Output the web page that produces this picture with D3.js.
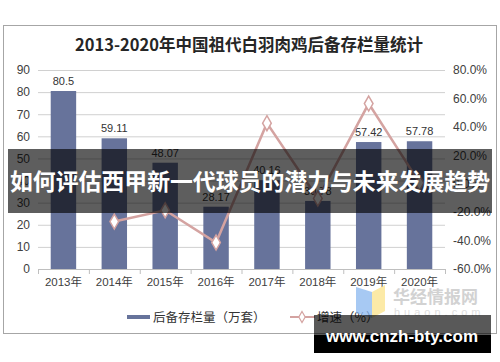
<!DOCTYPE html>
<html lang="zh">
<head>
<meta charset="utf-8">
<title>祖代白羽肉鸡后备存栏量</title>
<script src="https://d3js.org/d3.v7.min.js"></script>
<style>
    body { margin: 0; background: #ffffff; }
    svg { display: block; }
    .tick text { font-family: "Liberation Sans", "Noto Sans CJK SC", sans-serif; fill: #404040; }
</style>
</head>
<body>
<svg id="chart" width="500" height="362"></svg>
<script>
// data
const years = ["2013年", "2014年", "2015年", "2016年", "2017年", "2018年", "2019年", "2020年"];
const stock = [80.5, 59.11, 48.07, 28.17, 40.16, 30.78, 57.42, 57.78];
const growth = [null, -26.6, -18.7, -41.4, 42.6, -10.4, 56.4, 0.6];
const leftTicks = [0, 10, 20, 30, 40, 50, 60, 70, 80, 90];
const rightTicks = [-60, -40, -20, 0, 20, 40, 60, 80];

const svg = d3.select("#chart");
const font = "'Liberation Sans', 'Noto Sans CJK SC', sans-serif";
const barColor = "#67739b";
const lineColor = "#d4a3a1";

// frame
svg.append("rect")
    .attr("x", 3.5).attr("y", 25.5)
    .attr("width", 493).attr("height", 308)
    .attr("fill", "#fff").attr("stroke", "#a6a6a6");

// title
svg.append("text")
    .attr("x", 249).attr("y", 51)
    .attr("text-anchor", "middle")
    .style("font-family", "'Noto Sans CJK SC', sans-serif")
    .style("font-weight", "bold")
    .style("font-size", "16.5px")
    .attr("fill", "#262626")
    .text("2013-2020年中国祖代白羽肉鸡后备存栏量统计");

// scales
const x = d3.scaleBand().domain(years).range([38, 445]).paddingInner(0.5).paddingOuter(0.25);
const yL = d3.scaleLinear().domain([0, 90]).range([269, 70]);
const yR = d3.scaleLinear().domain([-60, 80]).range([269, 70]);

// gridlines
svg.append("g")
    .selectAll("line")
    .data(leftTicks.slice(1))
    .join("line")
    .attr("x1", 38).attr("x2", 445)
    .attr("y1", d => yL(d) + 0.5).attr("y2", d => yL(d) + 0.5)
    .attr("stroke", "#d0d0d0");

// left axis
const leftAxis = svg.append("g")
    .attr("transform", "translate(34,0)")
    .call(d3.axisLeft(yL).tickValues(leftTicks).tickSize(0).tickPadding(4));
leftAxis.select(".domain").remove();
leftAxis.selectAll("text").style("font-size", "12px");

// right axis
const rightAxis = svg.append("g")
    .attr("transform", "translate(450,0)")
    .call(d3.axisRight(yR).tickValues(rightTicks).tickSize(0).tickPadding(3)
        .tickFormat(d => d.toFixed(1) + "%"));
rightAxis.select(".domain").remove();
rightAxis.selectAll("text").style("font-size", "12px");

// bars
svg.append("g")
    .selectAll("rect")
    .data(stock)
    .join("rect")
    .attr("x", (d, i) => x(years[i]))
    .attr("y", d => yL(d))
    .attr("width", x.bandwidth())
    .attr("height", d => yL(0) - yL(d))
    .attr("fill", barColor);

// bar value labels
svg.append("g")
    .selectAll("text")
    .data(stock)
    .join("text")
    .attr("x", (d, i) => x(years[i]) + x.bandwidth() / 2)
    .attr("y", d => yL(d) - 6)
    .attr("text-anchor", "middle")
    .style("font-family", font)
    .style("font-size", "11px")
    .attr("fill", "#333")
    .text(d => d);

// x axis
const bottomAxis = svg.append("g")
    .attr("transform", "translate(0,269.5)")
    .call(d3.axisBottom(x).tickSize(0).tickPadding(8));
bottomAxis.select(".domain").attr("d", "M38,0H445").attr("stroke", "#bfbfbf");
bottomAxis.selectAll("text").style("font-size", "11.5px");
svg.append("g")
    .selectAll("line")
    .data(d3.range(years.length + 1))
    .join("line")
    .attr("x1", i => 38 + i * x.step() + 0.5)
    .attr("x2", i => 38 + i * x.step() + 0.5)
    .attr("y1", 269).attr("y2", 274)
    .attr("stroke", "#bfbfbf");

// growth line
const pts = growth.map((g, i) => ({ yr: years[i], g: g })).filter(d => d.g !== null);
const line = d3.line().x(d => x(d.yr) + x.bandwidth() / 2).y(d => yR(d.g));
svg.append("path")
    .datum(pts)
    .attr("d", line)
    .attr("fill", "none")
    .attr("stroke", lineColor)
    .attr("stroke-width", 2.5);

const diamond = d3.symbol().type(d3.symbolDiamond).size(65);
svg.append("g")
    .selectAll("path")
    .data(pts)
    .join("path")
    .attr("transform", d => `translate(${x(d.yr) + x.bandwidth() / 2},${yR(d.g)})`)
    .attr("d", diamond)
    .attr("fill", "#fff")
    .attr("stroke", lineColor)
    .attr("stroke-width", 1.5);

// legend
const lg = svg.append("g");
lg.append("rect").attr("x", 127).attr("y", 315).attr("width", 23).attr("height", 4).attr("fill", barColor);
lg.append("text").attr("x", 153).attr("y", 322)
    .style("font-family", "'Noto Sans CJK SC', sans-serif").style("font-size", "12.5px").attr("fill", "#333")
    .text("后备存栏量（万套）");
lg.append("line").attr("x1", 290).attr("x2", 315).attr("y1", 317).attr("y2", 317)
    .attr("stroke", lineColor).attr("stroke-width", 2);
lg.append("path").attr("transform", "translate(302,317)").attr("d", d3.symbol().type(d3.symbolDiamond).size(35))
    .attr("fill", "#fff").attr("stroke", lineColor).attr("stroke-width", 1.2);
lg.append("text").attr("x", 317).attr("y", 322)
    .style("font-family", "'Noto Sans CJK SC', sans-serif").style("font-size", "12.5px").attr("fill", "#333")
    .text("增速（%）");

// watermark logo
const wm = svg.append("g").attr("opacity", 0.75);
wm.append("path").attr("d", "M356,287 L372,292 L372,318 L356,313 Z").attr("fill", "#8ab8f0");
wm.append("path").attr("d", "M372,292 L385,285 L385,311 L372,318 Z").attr("fill", "#fbe48a");
wm.append("text").attr("x", 393).attr("y", 303)
    .style("font-family", "'Noto Sans CJK SC', sans-serif").style("font-weight", "bold").style("font-size", "17px")
    .attr("fill", "#c4c4c4").text("华经情报网");
wm.append("text").attr("x", 394).attr("y", 316)
    .style("font-family", font).style("font-size", "11px").style("letter-spacing", "4px")
    .attr("fill", "#d4d4d4").text("huaon.com");

// headline banner
svg.append("rect").attr("x", 8).attr("y", 149).attr("width", 484).attr("height", 64)
    .attr("fill", "rgba(0,0,0,0.63)");
svg.append("text").attr("x", 250).attr("y", 190)
    .attr("text-anchor", "middle")
    .attr("textLength", 480)
    .attr("lengthAdjust", "spacingAndGlyphs")
    .style("font-family", "'Noto Sans CJK SC', sans-serif").style("font-weight", "bold").style("font-size", "23px")
    .attr("fill", "#fff")
    .text("如何评估西甲新一代球员的潜力与未来发展趋势");

// site banner
svg.append("rect").attr("x", 314).attr("y", 315).attr("width", 177).attr("height", 20).attr("fill", "rgba(0,0,0,0.65)");
svg.append("rect").attr("x", 314).attr("y", 335).attr("width", 177).attr("height", 18).attr("fill", "#000");
svg.append("text").attr("x", 402).attr("y", 342)
    .attr("text-anchor", "middle")
    .style("font-family", "'Liberation Sans', sans-serif").style("font-weight", "bold").style("font-size", "17px")
    .attr("fill", "#fff")
    .text("www.cnzh-bty.com");
</script>
</body>
</html>
